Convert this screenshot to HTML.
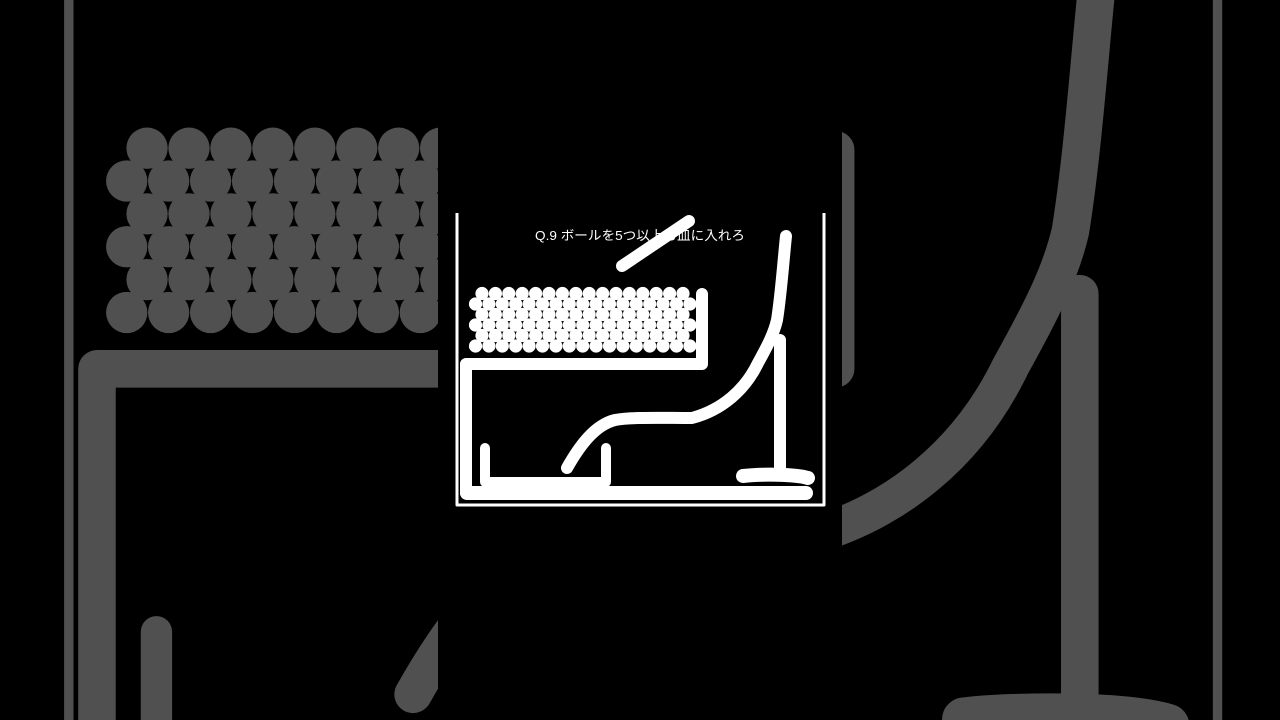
<!DOCTYPE html>
<html><head><meta charset="utf-8"><style>
html,body{margin:0;padding:0;background:#000;width:1280px;height:720px;overflow:hidden}
svg{position:absolute;left:0;top:0}
.t{font-family:"Liberation Sans","Noto Sans CJK JP",sans-serif;font-size:13px;fill:#fff}
</style></head><body>
<svg width="1280" height="720" viewBox="0 0 1280 720">
<defs>
<g id="scene" stroke-linecap="round" stroke-linejoin="round">
  <g fill="none" stroke="currentColor">
    <path d="M457 213 V505 H824 V213" stroke-width="3" stroke-linecap="butt"/>
    <path d="M467 493 H806" stroke-width="14"/>
    <path d="M466 493 V364 H702 V294" stroke-width="12"/>
    <path d="M485 448 V482 H606 V448" stroke-width="10"/>
    <path d="M567 468 C580 445 595 425 615 420 C630 417 660 418 692 418 C722 410 745 390 758 363 C768 345 774 333 777 320 C781 295 783 265 786 236" stroke-width="12"/>
    <path d="M780 340 V472" stroke-width="12"/>
    <path d="M743 476 C760 474 795 474 808 478" stroke-width="14"/>
    <path d="M622 266 L689 221" stroke-width="12"/>
  </g>
  <g fill="currentColor" id="balls"></g>
</g>
</defs>
<g id="bg" color="#505050" transform="translate(-1361.6,-770.5) scale(3.13)"></g>
<rect x="438" y="0" width="404" height="720" fill="#000"/>
<g id="fg" color="#ffffff"></g>
<text class="t" x="535" y="240" textLength="210" lengthAdjust="spacingAndGlyphs">Q.9 ボールを5つ以上お皿に入れろ</text>
</svg>
<script>
var ns="http://www.w3.org/2000/svg";
var b=document.getElementById("balls");
for(var r=0;r<6;r++){var y=293.5+r*10.5;var odd=r%2==0;var x0=odd?482:475.5;var n=odd?16:17;
for(var i=0;i<n;i++){var c=document.createElementNS(ns,"circle");c.setAttribute("cx",x0+i*13.4);c.setAttribute("cy",y);c.setAttribute("r",6.6);b.appendChild(c);}}
var s=document.getElementById("scene");
["bg","fg"].forEach(function(id){document.getElementById(id).appendChild(s.cloneNode(true));});
</script>
</body></html>
